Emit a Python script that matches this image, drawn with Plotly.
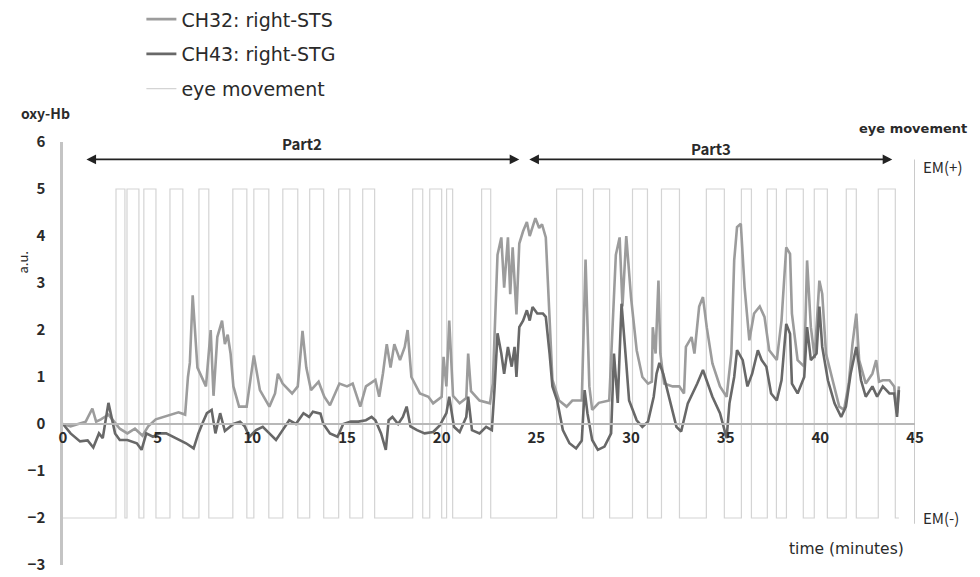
import plotly.graph_objects as go

# ---------------- data ----------------
ch32_time = [
    0, 0.4, 0.8, 1.2, 1.55, 1.75, 2.0, 2.4, 2.7, 3.0,
    3.4, 3.8, 4.2, 4.5, 4.9, 5.3, 5.7, 6.1, 6.45, 6.6,
    6.7, 6.85, 7.1, 7.55, 7.8, 7.95, 8.15, 8.4, 8.55, 8.7,
    8.85, 9.0, 9.3, 9.7, 10.08, 10.4, 10.9, 11.2, 11.35, 11.6,
    12.1, 12.4, 12.65, 12.85, 13.1, 13.5, 13.8, 14.1, 14.6, 15.0,
    15.3, 15.7, 16.0, 16.5, 16.7, 16.9, 17.1, 17.3, 17.5, 17.8,
    18.05, 18.2, 18.4, 18.85, 19.3, 19.55, 20.0, 20.1, 20.25, 20.4,
    20.6, 20.95, 21.3, 21.4, 21.55, 22.0, 22.55, 22.7, 22.95, 23.15,
    23.3, 23.5, 23.62, 23.75, 23.95, 24.1, 24.3, 24.5, 24.65, 24.8,
    24.95, 25.15, 25.3, 25.5, 25.7, 25.85, 26.2, 26.6, 26.9, 27.4,
    27.6, 27.8, 27.95, 28.3, 28.85, 29.0, 29.2, 29.4, 29.55, 29.75,
    30.0, 30.3, 30.6, 30.9, 31.1, 31.15, 31.3, 31.45, 31.55, 31.75,
    32.2, 32.55, 32.8, 32.9, 33.2, 33.35, 33.6, 33.8, 34.0, 34.3,
    34.7, 35.05, 35.3, 35.45, 35.6, 35.8, 36.0, 36.25, 36.5, 36.8,
    37.05, 37.3, 37.7, 37.95, 38.2, 38.4, 38.5, 38.8, 39.15, 39.3,
    39.5, 39.7, 39.95, 40.1, 40.3, 40.65, 41.0, 41.25, 41.5, 41.7,
    41.9, 42.05, 42.4, 42.75, 42.95, 43.1, 43.3, 43.65, 43.9, 44.05,
    44.15,
]
ch32_value = [
    0, -0.05, 0.0, 0.05, 0.33, 0.05, 0.1, 0.2, 0.05, -0.1,
    -0.2, -0.1, -0.25, -0.05, 0.1, 0.15, 0.2, 0.25, 0.2, 1.0,
    1.3, 2.74, 1.2, 0.8, 2.0, 0.6, 1.85, 2.2, 1.7, 1.9,
    1.5, 0.8, 0.37, 0.37, 1.46, 0.72, 0.37, 0.65, 1.07, 0.86,
    0.65, 0.8, 1.98, 1.2, 0.72, 0.9, 0.58, 0.4, 0.86, 0.8,
    0.86, 0.37, 0.8, 0.94, 0.58, 1.08, 1.7, 1.2, 1.7, 1.36,
    1.64, 2.0, 1.0, 0.65, 0.58, 0.44, 0.58, 1.43, 0.8, 2.2,
    0.6, 0.44, 0.55, 1.5, 0.7, 0.5, 0.44, 0.86, 3.6, 3.97,
    2.9, 3.97, 2.76, 3.76, 2.33, 3.84, 4.1, 4.3, 4.0, 4.2,
    4.38, 4.17, 4.25, 3.97, 2.2, 0.94, 0.5, 0.37, 0.5, 0.5,
    3.5, 0.8, 0.3, 0.45, 0.5, 1.93, 3.6, 3.97, 2.5, 4.0,
    2.7, 1.57, 1.0, 0.86, 0.9, 2.06, 1.5, 3.05, 1.5, 0.86,
    0.8, 0.8, 0.65, 1.64, 1.85, 1.5, 2.5, 2.7, 2.06, 1.29,
    0.8, 0.58, 1.5, 3.48, 4.19, 4.26, 2.9, 1.78, 2.35, 2.5,
    2.28, 1.57, 1.36, 2.2, 3.76, 3.62, 2.35, 1.36, 1.22, 3.48,
    2.06, 1.4, 3.05, 2.77, 1.5, 0.93, 0.37, 0.3, 0.86, 1.71,
    2.35, 1.36, 0.86, 1.07, 1.36, 0.9, 0.93, 0.93, 0.8, 0.23,
    0.8,
]

ch43_time = [
    0, 0.4, 0.9, 1.3, 1.6, 1.9, 2.1, 2.4, 2.75, 3.0,
    3.4, 3.9, 4.15, 4.4, 4.75, 5.1, 5.45, 5.8, 6.2, 6.5,
    6.9, 7.15, 7.4, 7.6, 7.85, 8.05, 8.3, 8.55, 9.0, 9.35,
    9.6, 9.85, 10.2, 10.55, 10.9, 11.25, 11.6, 11.95, 12.3, 12.7,
    13.0, 13.2, 13.6, 13.75, 14.1, 14.5, 14.8, 15.2, 15.6, 16.0,
    16.3, 16.5, 16.8, 17.05, 17.2, 17.4, 17.7, 17.95, 18.15, 18.35,
    18.7, 19.1, 19.55, 19.9, 20.25, 20.4, 20.65, 20.95, 21.3, 21.4,
    21.6, 22.0, 22.35, 22.65, 22.8, 22.95, 23.15, 23.3, 23.5, 23.7,
    23.85, 23.95, 24.1, 24.3, 24.5, 24.65, 24.8, 25.05, 25.35, 25.5,
    25.7, 25.85, 26.1, 26.4, 26.75, 27.1, 27.4, 27.55, 27.7, 27.95,
    28.25, 28.6, 28.95, 29.1, 29.3, 29.5, 29.75, 29.9, 30.3, 30.6,
    30.9, 31.1, 31.2, 31.35, 31.5, 31.7, 32.0, 32.4, 32.65, 32.8,
    33.0, 33.25, 33.5, 33.8, 34.0, 34.3, 34.7, 34.95, 35.05, 35.2,
    35.45, 35.6, 35.9, 36.15, 36.4, 36.7, 36.9, 37.15, 37.4, 37.7,
    37.95, 38.2, 38.4, 38.5, 38.8, 39.15, 39.3, 39.5, 39.8, 39.95,
    40.1, 40.4, 40.75, 41.1, 41.35, 41.6, 41.9, 42.15, 42.4, 42.75,
    43.0, 43.3, 43.65, 43.9, 44.05, 44.15,
]
ch43_value = [
    0, -0.2, -0.37, -0.35, -0.5, -0.2, -0.3, 0.45, -0.2, -0.34,
    -0.34, -0.41, -0.55, -0.2, -0.27, -0.2, -0.2, -0.27, -0.34, -0.41,
    -0.52, -0.2, 0.05, 0.23, 0.3, -0.2, 0.23, -0.15, 0.0, 0.05,
    -0.05, -0.27, -0.13, -0.06, -0.2, -0.34, -0.13, 0.08, 0.0, 0.23,
    0.15, 0.26, 0.22, 0.0, -0.2, -0.27, 0.0, 0.05, 0.05, 0.08,
    0.15, 0.08, -0.2, -0.55, 0.08, 0.15, 0.0, 0.15, 0.37, -0.05,
    -0.13, -0.2, -0.17, -0.03, 0.23, 0.58, -0.06, -0.17, 0.15, 0.58,
    -0.13, -0.2, -0.06, -0.13, 0.8, 1.93, 1.5, 1.07, 1.64, 1.22,
    1.64, 1.0, 2.06, 2.2, 2.42, 2.2, 2.49, 2.35, 2.35, 2.28,
    1.5, 0.8, 0.5, -0.13, -0.41, -0.52, -0.35, 0.72, 0.23, -0.34,
    -0.55, -0.48, -0.2, 1.5, 0.45, 2.56, 1.29, 0.5, 0.08, -0.06,
    0.05, 0.37, 0.58, 1.07, 1.3, 1.07, 0.58, -0.06, -0.16, 0.08,
    0.44, 0.65, 0.86, 1.15, 0.93, 0.58, 0.23, -0.13, -0.3, 0.44,
    1.0, 1.57, 1.36, 0.8, 1.07, 1.57, 1.36, 1.22, 0.65, 0.5,
    0.93, 2.13, 1.92, 0.86, 0.65, 1.0, 2.06, 1.36, 1.5, 2.5,
    1.64, 0.93, 0.44, 0.15, 0.37, 1.07, 1.64, 0.93, 0.58, 0.8,
    0.58, 0.8, 0.65, 0.65, 0.15, 0.72,
]

# eye movement: EM(+) = 5, EM(-) = -2 on the oxy-Hb scale (step signal)
em_time = [
    0, 2.80, 3.27, 3.38, 4.01, 4.27, 4.91, 5.65, 6.33, 7.18,
    7.70, 8.97, 9.71, 10.08, 10.87, 11.61, 12.40, 13.03, 13.77, 14.56,
    15.15, 15.83, 16.46, 18.47, 19.00, 19.37, 20.00, 20.26, 20.58, 22.11,
    22.59, 26.07, 27.44, 28.02, 28.87, 30.08, 30.87, 31.61, 32.56, 33.98,
    34.93, 35.83, 36.36, 37.20, 37.68, 38.21, 39.10, 39.68, 40.37, 41.37,
    41.90, 43.06, 43.96, 44.15,
]
em_value = [
    -2, 5, -2, 5, -2, 5, -2, 5, -2, 5,
    -2, 5, -2, 5, -2, 5, -2, 5, -2, 5,
    -2, 5, -2, 5, -2, 5, -2, 5, -2, 5,
    -2, 5, -2, 5, -2, 5, -2, 5, -2, 5,
    -2, 5, -2, 5, -2, 5, -2, 5, -2, 5,
    -2, 5, -2, -2,
]

x_ticks = [0, 5, 10, 15, 20, 25, 30, 35, 40, 45]
y_ticks = [6, 5, 4, 3, 2, 1, 0, -1, -2, -3]
em_tick_pos = [5.46, -2.02]
em_tick_text = ["EM(+)", "EM(-)"]

# ---------------- figure ----------------
FONT = "Noto Sans CJK JP"
WIDE = "DejaVu Sans"
TXT = "#2a2a2a"

fig = go.Figure()
fig.add_trace(go.Scatter(x=em_time, y=em_value, mode="lines", line_shape="hv",
                         name="eye movement", legendrank=3, legendgroup="c",
                         line=dict(color="#d4d4d4", width=1.2)))
fig.add_trace(go.Scatter(x=ch32_time, y=ch32_value, mode="lines",
                         name="CH32: right-STS", legendrank=1, legendgroup="a",
                         line=dict(color="#9c9c9c", width=2.6)))
fig.add_trace(go.Scatter(x=ch43_time, y=ch43_value, mode="lines",
                         name="CH43: right-STG", legendrank=2, legendgroup="b",
                         line=dict(color="#686868", width=2.6)))
# invisible trace to carry the right-hand axis
fig.add_trace(go.Scatter(x=[None], y=[None], yaxis="y2", showlegend=False,
                         hoverinfo="skip"))

# the page body adds an 8px offset, so margins are shifted to compensate
fig.update_layout(
    width=980, height=577,
    margin=dict(l=55, r=73, t=134, b=20, autoexpand=False),
    paper_bgcolor="white", plot_bgcolor="white",
    font=dict(family=FONT, color=TXT, size=15),
    showlegend=True,
    legend=dict(x=0.092, y=1.335, xanchor="left", yanchor="top",
                font=dict(size=19, color=TXT, family=WIDE),
                tracegroupgap=7, bgcolor="rgba(0,0,0,0)"),
    xaxis=dict(range=[0, 45], tickvals=x_ticks, showgrid=False, zeroline=False,
               anchor="free", position=1/3, showline=True, linecolor="#b8b8b8",
               linewidth=1.5, ticks="", ticklabelstandoff=0,
               tickfont=dict(size=15, color=TXT, family=FONT, weight="bold")),
    yaxis=dict(range=[-3, 6], tickvals=y_ticks, showgrid=False, zeroline=False,
               showline=True, linecolor="#c4c4c4", linewidth=2.5, ticks="",
               ticklabelstandoff=12,
               tickfont=dict(size=15, color=TXT, family=FONT, weight="bold")),
    yaxis2=dict(range=[-3, 6], overlaying="y", side="right", tickvals=em_tick_pos,
                ticktext=em_tick_text, showgrid=False, zeroline=False,
                showline=False, ticks="", ticklabelstandoff=7,
                tickfont=dict(size=15, color=TXT, family=FONT)),
)

# right "eye movement" axis line
fig.add_shape(type="line", xref="x", yref="y", x0=45, x1=45, y0=-2.12, y1=5.63,
              line=dict(color="#b8b8b8", width=1.5))

# Part arrows (double headed)
for x0, x1 in [(1.16, 24.1), (24.55, 43.8)]:
    fig.add_annotation(x=x1, y=5.63, ax=x0, ay=5.63, xref="x", yref="y",
                       axref="x", ayref="y", text="", showarrow=True,
                       arrowhead=2, arrowsize=1.2, arrowwidth=1.6,
                       arrowcolor="#222222", arrowside="end+start")

ann = [
    dict(text="Part2", x=12.6, y=5.97, xanchor="center", xref="x", yref="y",
         size=15, weight="bold", family=FONT),
    dict(text="Part3", x=34.25, y=5.86, xanchor="center", xref="x", yref="y",
         size=15, weight="bold", family=FONT),
    dict(text="oxy-Hb", x=-0.021, y=1.069, xanchor="center", xref="paper",
         yref="paper", size=14, weight="bold", family=FONT),
    dict(text="eye movement", x=1.0635, y=1.031, xanchor="right", xref="paper",
         yref="paper", size=13, weight="bold", family=WIDE),
    dict(text="time (minutes)", x=44.5, y=-2.66, xanchor="right", xref="x",
         yref="y", size=15.5, weight="normal", family=WIDE),
]
for a in ann:
    fig.add_annotation(text=a["text"], x=a["x"], y=a["y"], xref=a["xref"],
                       yref=a["yref"], showarrow=False, xanchor=a["xanchor"],
                       yanchor="middle",
                       font=dict(size=a["size"], color=TXT, family=a["family"],
                                 weight=a["weight"]))
fig.add_annotation(text="a.u.", x=-0.047, y=0.715, xref="paper", yref="paper",
                   showarrow=False, textangle=-90, xanchor="center",
                   yanchor="middle",
                   font=dict(size=13, color=TXT, family=FONT))

fig.write_html("out.html")
